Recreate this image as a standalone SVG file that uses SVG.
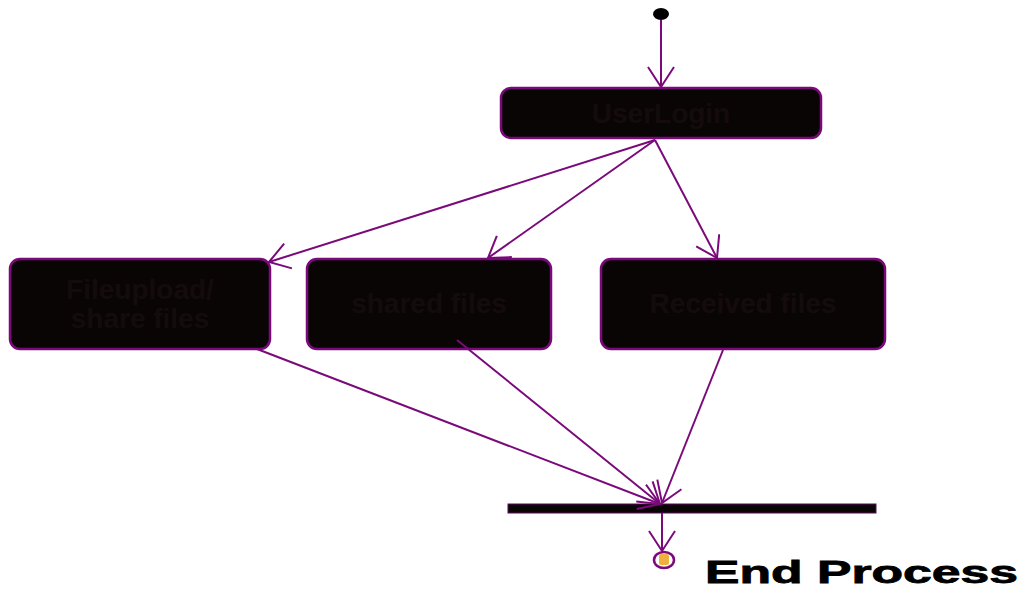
<svg xmlns="http://www.w3.org/2000/svg" width="1024" height="592" viewBox="0 0 1024 592">
  <defs>
    <marker id="open" markerWidth="24" markerHeight="30" refX="21" refY="14" orient="auto" markerUnits="userSpaceOnUse">
      <path d="M1,1 L21,14 L1,27" fill="none" stroke="#7a0a7a" stroke-width="2"/>
    </marker>
  </defs>
  <style>
    .node { fill: #0a0505; stroke: #7a0a7a; stroke-width: 2.5; }
    .lbl { font-family: "Liberation Sans", Arial, sans-serif; font-weight: bold; font-size: 28px; fill: #140c0c; text-anchor: middle; }
    .edge { fill: none; stroke: #7a0a7a; stroke-width: 2; marker-end: url(#open); }
  </style>
  <rect width="1024" height="592" fill="#ffffff"/>

  <g id="start">
    <ellipse cx="661" cy="14" rx="8" ry="6" fill="#000000"/>
  </g>

  <g id="userlogin">
    <rect class="node" x="501" y="88" width="320" height="50" rx="10"/>
    <text class="lbl" x="661" y="123">UserLogin</text>
  </g>

  <g id="fileupload">
    <rect class="node" x="10" y="259" width="260" height="90" rx="10"/>
    <text class="lbl" x="140" y="299">Fileupload/</text>
    <text class="lbl" x="140" y="328">share files</text>
  </g>

  <g id="sharedfiles">
    <rect class="node" x="307" y="259" width="244" height="90" rx="10"/>
    <text class="lbl" x="429" y="313">shared files</text>
  </g>

  <g id="receivedfiles">
    <rect class="node" x="601" y="259" width="284" height="90" rx="10"/>
    <text class="lbl" x="743" y="313">Received files</text>
  </g>

  <g id="join">
    <rect x="508" y="504" width="368" height="9" fill="#0a0505" stroke="#5a0a5a" stroke-width="1"/>
  </g>

  <g id="end">
    <ellipse cx="664" cy="560" rx="10" ry="8" fill="#ffffff" stroke="#7a0a7a" stroke-width="2.5"/>
    <rect x="659" y="554" width="10" height="11" rx="2" fill="#f0b040"/>
    <text x="705" y="583" font-family="Liberation Sans, Arial, sans-serif" font-weight="bold" font-size="32" fill="#000000" stroke="#000000" stroke-width="0.8" textLength="313" lengthAdjust="spacingAndGlyphs">End Process</text>
  </g>

  <g id="connectors">
    <line class="edge" x1="661" y1="20" x2="661" y2="87"/>
    <line class="edge" x1="655" y1="140" x2="269" y2="262"/>
    <line class="edge" x1="655" y1="140" x2="488" y2="258"/>
    <line class="edge" x1="655" y1="140" x2="717" y2="258"/>
    <line class="edge" x1="257" y1="349" x2="660" y2="504"/>
    <line class="edge" x1="457" y1="340" x2="660" y2="504"/>
    <line class="edge" x1="723" y1="350" x2="662" y2="503"/>
    <line class="edge" x1="662" y1="513" x2="662" y2="551"/>
  </g>
</svg>
